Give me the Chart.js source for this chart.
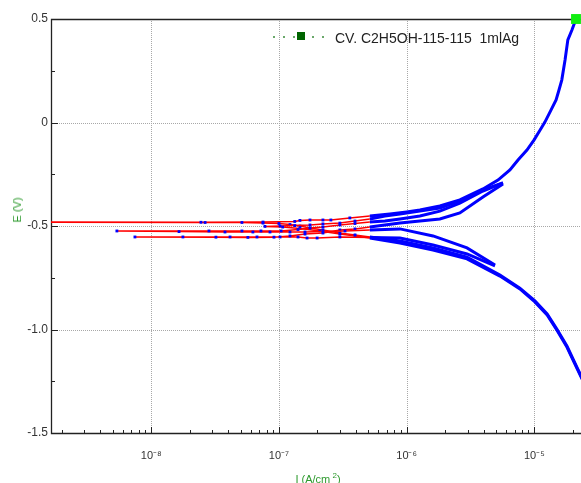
<!DOCTYPE html>
<html lang="en">

<head>
    <meta charset="UTF-8">
    <title>CV C2H5OH-115-115 1mlAg</title>
    <script src="https://cdn.jsdelivr.net/npm/chart.js"></script>
    <style>
        body { margin: 0; background: #fff; }
        #wrap { position: relative; width: 581px; height: 483px; font-family: 'Liberation Sans', Arial, sans-serif; }
        #wrap canvas { position: absolute; left: 0; top: 0; }
        .legend { position: absolute; left: 335px; top: 30px; font-size: 14px; line-height: 16px; color: #222; white-space: pre; }
        .dot { position: absolute; width: 2px; height: 2px; background: #6aa86a; top: 36px; }
        .mark { position: absolute; width: 8px; height: 8px; background: #006400; left: 297px; top: 32px; }
        .ytitle { position: absolute; left: 17px; top: 210px; transform: translate(-50%, -50%) rotate(-90deg); font-size: 11px; color: #2e9a2e; white-space: nowrap; }
        .xtitle { position: absolute; left: 318px; top: 478px; transform: translate(-50%, -50%); font-size: 11px; color: #2e9a2e; white-space: nowrap; }
        .xtitle sup { font-size: 8px; }
    </style>
</head>

<body>
    <div id="wrap">
        <canvas id="cvChart" width="581" height="483"></canvas>
        <span class="dot" style="left:273px"></span>
        <span class="dot" style="left:283px"></span>
        <span class="dot" style="left:293px"></span>
        <span class="mark"></span>
        <span class="dot" style="left:312px"></span>
        <span class="dot" style="left:322px"></span>
        <div class="legend">CV. C2H5OH-115-115  1mlAg</div>
        <div class="ytitle">E (V)</div>
        <div class="xtitle">I (A/cm<sup> 2</sup>)</div>
    </div>

    <script>
        // axis ticks
        const xTickValues = [1e-8, 1e-7, 1e-6, 1e-5];
        const xTickLabels = ['10⁻⁸', '10⁻⁷', '10⁻⁶', '10⁻⁵'];
        const yTickValues = [0.5, 0, -0.5, -1.0, -1.5];
        const yTickLabels = ['0.5', '0', '-0.5', '-1.0', '-1.5'];

        // sweep 1: -0.29 V down to -0.69 V
        const sweep1I = [5.68e-6, 3.96e-6, 2.61e-6, 1.82e-6, 1.27e-6, 8.87e-7, 6.76e-7, 5.15e-7, 3.94e-7, 3.00e-7,
            2.21e-7, 1.75e-7, 1.41e-7, 1.04e-7, 7.23e-8, 5.13e-8, 2.83e-8, 5.38e-9, 1.65e-8, 3.78e-8,
            6.25e-8, 8.51e-8, 1.22e-7, 1.60e-7, 2.21e-7, 3.29e-7, 5.15e-7, 8.87e-7, 1.61e-6, 2.97e-6, 4.92e-6];
        const sweep1E = [-0.292, -0.331, -0.389, -0.428, -0.452, -0.466, -0.476, -0.481, -0.488, -0.495,
            -0.505, -0.510, -0.517, -0.524, -0.524, -0.524, -0.524, -0.524, -0.527, -0.529,
            -0.529, -0.529, -0.529, -0.529, -0.527, -0.524, -0.519, -0.514, -0.548, -0.606, -0.688];

        // sweep 2: -0.69 V back up to -0.29 V
        const sweep2I = [4.92e-6, 2.97e-6, 1.61e-6, 8.87e-7, 5.15e-7, 3.00e-7, 1.99e-7, 1.66e-7, 1.41e-7, 1.02e-7,
            6.73e-8, 4.14e-8, 1.77e-8, 7.45e-9, 3.21e-8, 5.71e-8, 9.14e-8, 1.22e-7, 1.60e-7, 2.21e-7,
            3.00e-7, 3.94e-7, 5.15e-7, 6.76e-7, 8.87e-7, 1.27e-6, 1.82e-6, 2.61e-6, 3.96e-6, 5.68e-6];
        const sweep2E = [-0.693, -0.635, -0.592, -0.558, -0.556, -0.553, -0.558, -0.558, -0.553, -0.553,
            -0.553, -0.553, -0.553, -0.553, -0.554, -0.555, -0.554, -0.548, -0.539, -0.534,
            -0.519, -0.514, -0.505, -0.495, -0.486, -0.476, -0.466, -0.437, -0.360, -0.297];

        // sweep 3: -0.29 V down to the cathodic limit
        const sweep3I = [5.68e-6, 3.96e-6, 2.61e-6, 1.82e-6, 1.27e-6, 8.87e-7, 6.76e-7, 5.15e-7, 3.94e-7, 3.00e-7,
            2.21e-7, 1.75e-7, 1.33e-7, 1.02e-7, 7.77e-8, 1.07e-7, 1.46e-7, 2.09e-7, 3.00e-7, 3.94e-7,
            5.15e-7, 6.76e-7, 8.87e-7, 1.61e-6, 2.97e-6, 5.38e-6, 7.71e-6, 1.01e-5, 1.26e-5, 1.50e-5,
            1.80e-5, 2.19e-5, 2.72e-5, 3.27e-5];
        const sweep3E = [-0.292, -0.326, -0.379, -0.413, -0.428, -0.442, -0.452, -0.466, -0.476, -0.486,
            -0.490, -0.495, -0.498, -0.500, -0.502, -0.505, -0.512, -0.524, -0.539, -0.548,
            -0.558, -0.570, -0.582, -0.616, -0.659, -0.742, -0.804, -0.867, -0.930, -1.002,
            -1.085, -1.196, -1.316, -1.437];

        // sweep 4: cathodic limit up to +0.5 V
        const sweep4I = [3.27e-5, 2.72e-5, 2.19e-5, 1.80e-5, 1.50e-5, 1.26e-5, 1.01e-5, 7.71e-6, 5.38e-6, 2.97e-6,
            1.61e-6, 8.87e-7, 6.76e-7, 5.15e-7, 3.94e-7, 3.00e-7, 2.21e-7, 1.75e-7, 1.46e-7, 1.22e-7,
            1.00e-7, 7.50e-8, 5.13e-8, 2.64e-8, 9.4e-10, 2.45e-8, 7.50e-8, 1.33e-7, 1.46e-7, 1.75e-7,
            2.21e-7, 2.55e-7, 3.59e-7, 5.15e-7, 7.40e-7, 1.00e-6, 1.27e-6, 1.82e-6, 2.61e-6, 3.96e-6,
            5.19e-6, 6.44e-6, 7.45e-6, 8.75e-6, 9.93e-6, 1.11e-5, 1.21e-5, 1.35e-5, 1.48e-5, 1.56e-5,
            1.64e-5, 1.74e-5, 1.83e-5, 1.97e-5, 2.12e-5];
        const sweep4E = [-1.432, -1.312, -1.191, -1.080, -0.998, -0.925, -0.862, -0.800, -0.737, -0.650,
            -0.606, -0.572, -0.563, -0.553, -0.543, -0.534, -0.519, -0.510, -0.500, -0.493,
            -0.488, -0.486, -0.483, -0.483, -0.481, -0.482, -0.481, -0.478, -0.473, -0.471,
            -0.471, -0.471, -0.461, -0.452, -0.442, -0.432, -0.423, -0.403, -0.374, -0.321,
            -0.278, -0.229, -0.181, -0.133, -0.085, -0.036, 0.002, 0.060, 0.109, 0.157,
            0.205, 0.302, 0.399, 0.447, 0.5];

        const DENSE = 4.5e-7; // above this the points sit so close they read as a solid blue line
        const toPoints = (I, E) => I.map((v, i) => ({ x: v, y: E[i] }));
        const dense = c => c.p0.parsed.x >= DENSE && c.p1.parsed.x >= DENSE;

        function sweep(I, E, last) {
            const n = I.length;
            return {
                data: toPoints(I, E),
                showLine: true,
                tension: 0,
                pointStyle: 'rect',
                pointBorderWidth: 0,
                pointRadius: c => (last && c.dataIndex === n - 1) ? 7 : (c.parsed.x < DENSE ? 2 : 0),
                pointBackgroundColor: c => (last && c.dataIndex === n - 1) ? '#11ee11' : '#0000ff',
                segment: {
                    borderColor: c => dense(c) ? '#0000ff' : '#ff0000',
                    borderWidth: c => dense(c) ? 3 : 1.5
                },
                clip: last ? { left: 0, top: 8, right: 0, bottom: 0 } : undefined
            };
        }

        // dotted grid, frame and inward tick marks
        const frame = {
            id: 'frame',
            beforeDatasetsDraw(chart) {
                const { ctx, chartArea: a, scales: { x, y } } = chart;
                ctx.save();
                ctx.strokeStyle = '#a8a8a8';
                ctx.lineWidth = 1;
                ctx.setLineDash([1, 1]);
                ctx.beginPath();
                xTickValues.forEach(v => {
                    const px = Math.round(x.getPixelForValue(v)) + 0.5;
                    ctx.moveTo(px, a.top); ctx.lineTo(px, a.bottom);
                });
                yTickValues.slice(1, -1).forEach(v => {
                    const py = Math.round(y.getPixelForValue(v)) + 0.5;
                    ctx.moveTo(a.left, py); ctx.lineTo(a.right, py);
                });
                ctx.stroke();
                ctx.setLineDash([]);

                ctx.strokeStyle = '#222';
                ctx.lineWidth = 1.3;
                ctx.beginPath();
                ctx.moveTo(a.right, a.top + 0.5); ctx.lineTo(a.left + 0.5, a.top + 0.5);
                ctx.lineTo(a.left + 0.5, a.bottom + 0.5); ctx.lineTo(a.right, a.bottom + 0.5);
                ctx.stroke();

                ctx.lineWidth = 1;
                ctx.beginPath();
                for (let e = -9; e <= -5; e++) {
                    for (let k = 1; k <= 9; k++) {
                        const v = k * Math.pow(10, e);
                        if (v < x.min || v > x.max) continue;
                        const px = Math.round(x.getPixelForValue(v)) + 0.5;
                        ctx.moveTo(px, a.bottom); ctx.lineTo(px, a.bottom - (k === 1 ? 6 : 3));
                    }
                }
                for (let v = -1.5; v <= 0.5; v += 0.25) {
                    const py = Math.round(y.getPixelForValue(v)) + 0.5;
                    const major = Math.abs(v * 2 - Math.round(v * 2)) < 1e-6;
                    ctx.moveTo(a.left, py); ctx.lineTo(a.left + (major ? 7 : 4), py);
                }
                ctx.stroke();
                ctx.restore();
            }
        };

        const font = { family: "'Liberation Sans', Arial, sans-serif", size: 11 };

        new Chart(document.getElementById('cvChart'), {
            type: 'scatter',
            data: {
                datasets: [
                    sweep(sweep1I, sweep1E, false),
                    sweep(sweep2I, sweep2E, false),
                    sweep(sweep3I, sweep3E, false),
                    sweep(sweep4I, sweep4E, true)
                ]
            },
            options: {
                responsive: false,
                animation: false,
                events: [],
                layout: { autoPadding: false, padding: { top: 19, right: 0, left: 0, bottom: 0 } },
                plugins: { legend: { display: false }, tooltip: { enabled: false } },
                scales: {
                    x: {
                        type: 'logarithmic',
                        min: 1.64e-9,
                        max: 2.32e-5,
                        afterBuildTicks: s => { s.ticks = xTickValues.map(v => ({ value: v })); },
                        afterFit: s => { s.height = 50; },
                        grid: { display: false, drawTicks: false },
                        border: { display: false },
                        ticks: {
                            callback: (v, i) => xTickLabels[i],
                            autoSkip: false, maxRotation: 0,
                            padding: 16, color: '#333', font: font
                        }
                    },
                    y: {
                        min: -1.5,
                        max: 0.5,
                        afterBuildTicks: s => { s.ticks = yTickValues.map(v => ({ value: v })); },
                        afterFit: s => { s.width = 51; },
                        grid: { display: false, drawTicks: false },
                        border: { display: false },
                        ticks: {
                            callback: (v, i) => yTickLabels[i],
                            padding: 3, color: '#333', font: { family: font.family, size: 12 }
                        }
                    }
                }
            },
            plugins: [frame]
        });
    </script>
</body>

</html>
